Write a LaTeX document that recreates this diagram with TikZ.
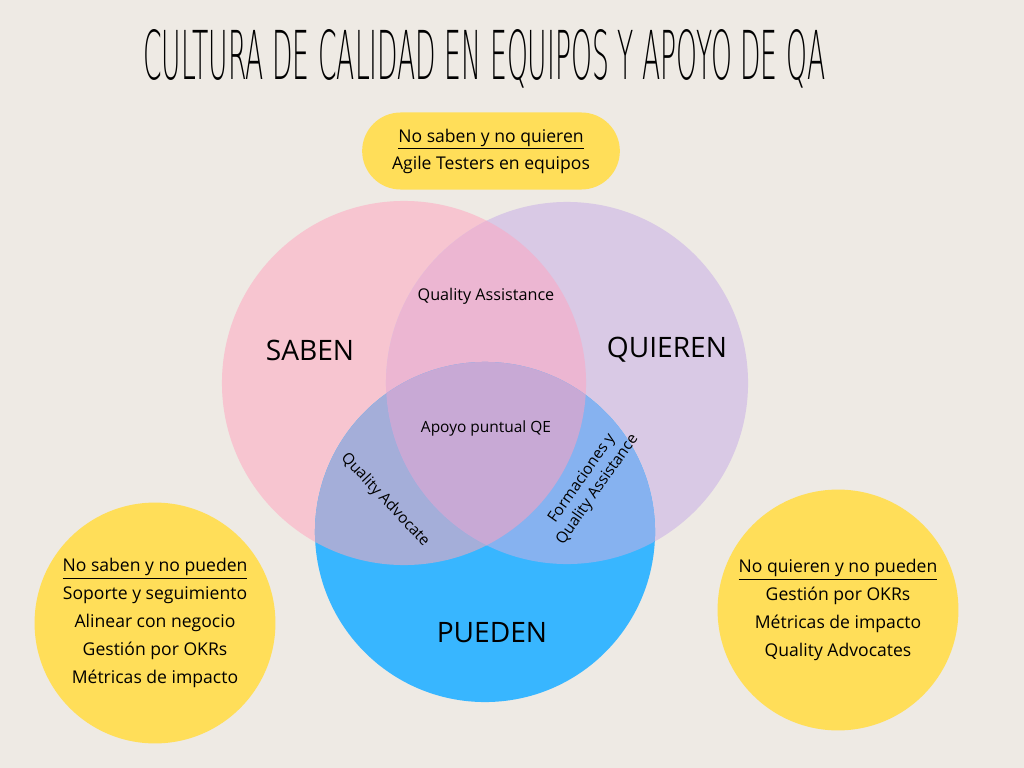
\documentclass[tikz,border=0pt]{standalone}
\usepackage{fontspec}
\setmainfont{Open Sans}
\newfontfamily\titlefont{DejaVu Sans ExtraLight}
\usepackage{tikz}
\usetikzlibrary{shapes}
\definecolor{paper}{HTML}{EEEAE4}
\definecolor{notecol}{HTML}{FFDE59}
\definecolor{sabencol}{HTML}{F7C5D0}
\definecolor{quierencol}{HTML}{D9C9E5}
\definecolor{puedencol}{HTML}{38B6FF}
\definecolor{sqcol}{HTML}{ECB6D2}
\definecolor{spcol}{HTML}{A4AED9}
\definecolor{qpcol}{HTML}{86B2F0}
\definecolor{allcol}{HTML}{C8A9D5}
\tikzstyle{venn} = [circle, inner sep=0pt]
\tikzstyle{note} = [circle, fill=notecol, inner sep=0pt, minimum size=6.02cm, align=center, font=\fontsize{12.5}{19.9}\selectfont]
\tikzstyle{pill} = [rounded rectangle, fill=notecol, minimum width=6.675cm, minimum height=1.925cm, align=center, font=\fontsize{12.5}{19.2}\selectfont]
\tikzstyle{zone} = [align=center, font=\fontsize{11}{13.5}\selectfont]
\tikzstyle{setname} = [font=\fontsize{20}{24}\selectfont]

\begin{document}
\begin{tikzpicture}[x=0.025cm, y=-0.025cm]

% Background
\fill[paper] (0,0) rectangle (1024,768);
\useasboundingbox (0,0) rectangle (1024,768);

% Title
\node[anchor=base west, inner sep=0pt] (title) at (143,80)
  {\resizebox{17.05cm}{1.25cm}{\titlefont CULTURA DE CALIDAD EN EQUIPOS Y APOYO DE QA}};

% Place circles
\node[venn, fill=sabencol, minimum size=9.1cm] (saben) at (404,383) {};
\node[venn, fill=quierencol, minimum size=9.05cm] (quieren) at (567,383) {};
\node[venn, fill=puedencol, minimum size=8.5cm] (pueden) at (485,532) {};

% Overlaps
\begin{scope}
  \clip (404,383) circle[radius=4.55cm];
  \fill[sqcol] (567,383) circle[radius=4.525cm];
  \fill[spcol] (485,532) circle[radius=4.25cm];
\end{scope}
\begin{scope}
  \clip (567,383) circle[radius=4.525cm];
  \fill[qpcol] (485,532) circle[radius=4.25cm];
  \clip (404,383) circle[radius=4.55cm];
  \fill[allcol] (485,532) circle[radius=4.25cm];
\end{scope}

% Set names
\node[setname] (sabenlabel) at (310,350) {SABEN};
\node[setname] (quierenlabel) at (667,350) {QUIEREN};
\node[setname] (puedenlabel) at (492,633) {PUEDEN};

% Zone labels
\node[zone, font=\fontsize{11.5}{13.5}\selectfont] (assistance) at (486,296) {Quality Assistance};
\node[zone] (apoyo) at (486,428) {Apoyo puntual QE};
\node[zone, rotate=-47] (advocate) at (385,500) {Quality Advocate};
\node[zone, rotate=55] (formaciones) at (590,484) {Formaciones y\\Quality Assistance};

% Notes
\node[pill] (noquieren) at (491,151) {\underline{No saben y no quieren}\\Agile Testers en equipos};
\node[note] (nopueden) at (155,623) {\underline{No saben y no pueden}\\Soporte y seguimiento\\Alinear con negocio\\Gestión por OKRs\\Métricas de impacto};
\node[note] (ninguno) at (838,610) {\underline{No quieren y no pueden}\\Gestión por OKRs\\Métricas de impacto\\Quality Advocates};

\end{tikzpicture}
\end{document}
